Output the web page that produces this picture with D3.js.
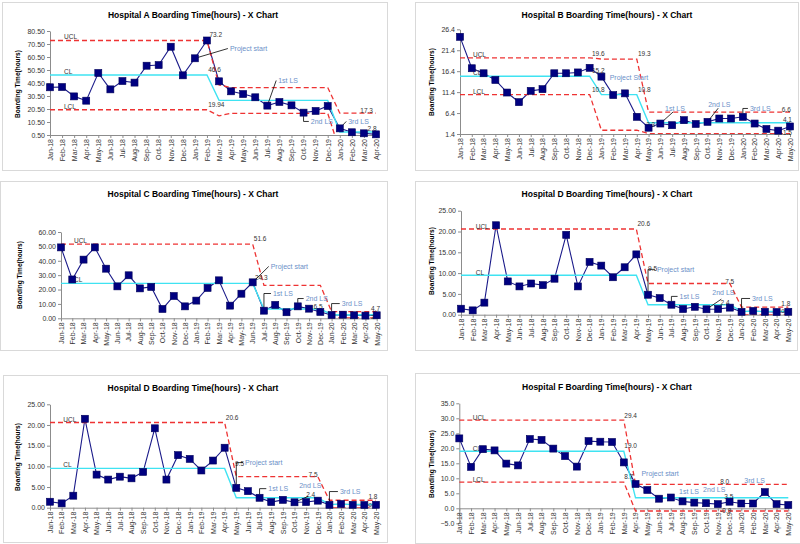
<!DOCTYPE html>
<html><head><meta charset="utf-8">
<script src="https://cdn.jsdelivr.net/npm/d3@7/dist/d3.min.js"></script>
<style>
body{margin:0;background:#fff;}
svg{display:block;}
text{font-family:"Liberation Sans",Arial,sans-serif;}
</style>
</head><body>
<svg id="c" width="800" height="544"></svg>
<script>
// ---------------- DATA ----------------
const months = ["Jan-18","Feb-18","Mar-18","Apr-18","May-18","Jun-18","Jul-18","Aug-18","Sep-18","Oct-18","Nov-18","Dec-18",
  "Jan-19","Feb-19","Mar-19","Apr-19","May-19","Jun-19","Jul-19","Aug-19","Sep-19","Oct-19","Nov-19","Dec-19",
  "Jan-20","Feb-20","Mar-20","Apr-20","May-20"];
const monthsA = ["Jan-18","Feb-18","Mar-18","Apr-18","May-18","Jun-18","Jul-18","Aug-18","Sep-18","Oct-18","Nov-18","Dec-18",
  "Jan-19","Feb-19","Mar-19","Apr-19","May-19","Jun-19","Jul-19","Aug-19","Sep-19","Oct-19","Nov-19","Dec-19",
  "Jan-20","Feb-20","Mar-20","Apr-20"];

// Hospital A
const hospA = [37.2,37.4,30.2,26.9,48.2,35.6,42.0,40.8,53.8,54.3,68.4,46.4,59.5,73.2,41.8,34.1,32.0,29.5,23.1,25.9,23.3,17.7,19.0,22.8,5.6,2.6,1.8,1.0];
const uclA = [73.2,73.2,73.2,73.2,73.2,73.2,73.2,73.2,73.2,73.2,73.2,73.2,73.2,73.2,39.0,37.0,37.0,37.0,37.0,37.0,37.0,37.0,37.0,37.0,17.3,17.3,17.3,17.3];
const clA  = [46.6,46.6,46.6,46.6,46.6,46.6,46.6,46.6,46.6,46.6,46.6,46.6,46.6,46.6,27.1,27.1,27.1,27.1,27.1,27.1,27.1,27.1,27.1,27.1,2.8,2.8,2.8,2.8];
const lclA = [19.94,19.94,19.94,19.94,19.94,19.94,19.94,19.94,19.94,19.94,19.94,19.94,19.94,19.94,15.2,17.2,17.2,17.2,17.2,17.2,17.2,17.2,17.2,17.2,-11.7,-11.7,-11.7,-11.7];
const ticksA = [0.5,10.5,20.5,30.5,40.5,50.5,60.5,70.5,80.5];

// Hospital B
const hospB = [24.6,17.1,15.9,14.3,11.3,9.0,11.7,12.1,15.9,15.9,16.1,17.2,15.1,10.7,11.1,5.5,2.9,3.9,3.5,4.7,3.8,4.3,5.1,5.1,5.5,3.9,2.6,2.2,3.2];
const uclB = [19.6,19.6,19.6,19.6,19.6,19.6,19.6,19.6,19.6,19.6,19.6,19.6,19.3,19.3,19.3,19.3,6.6,6.6,6.6,6.6,6.6,6.6,6.6,6.6,6.6,6.6,6.6,6.6,6.6];
const clB  = [15.2,15.2,15.2,15.2,15.2,15.2,15.2,15.2,15.2,15.2,15.2,15.2,10.8,10.8,10.8,10.8,4.1,4.1,4.1,4.1,4.1,4.1,4.1,4.1,4.1,4.1,4.1,4.1,4.1];
const lclB = [10.8,10.8,10.8,10.8,10.8,10.8,10.8,10.8,10.8,10.8,10.8,10.8,2.3,2.3,2.3,2.3,1.5,1.5,1.5,1.5,1.5,1.5,1.5,1.5,1.5,1.5,1.5,1.5,1.5];
const ticksB = [1.4,6.4,11.4,16.4,21.4,26.4];

// Hospital C
const hospC = [49.3,27.0,40.8,49.3,34.5,22.2,29.9,20.8,21.8,6.5,15.5,8.3,12.3,21.1,26.4,8.8,17.1,25.0,5.3,9.3,4.2,8.3,6.7,4.4,2.3,2.5,2.1,1.9,2.1];
const uclC = [51.6,51.6,51.6,51.6,51.6,51.6,51.6,51.6,51.6,51.6,51.6,51.6,51.6,51.6,51.6,51.6,51.6,51.6,22.9,22.9,22.9,22.9,22.9,22.9,4.7,4.7,4.7,4.7,4.7];
const clC  = [24.3,24.3,24.3,24.3,24.3,24.3,24.3,24.3,24.3,24.3,24.3,24.3,24.3,24.3,24.3,24.3,24.3,24.3,6.5,6.5,6.5,6.5,6.5,6.5,2.5,2.5,2.5,2.5,2.5];
const lclC = [-3.0,-3.0,-3.0,-3.0,-3.0,-3.0,-3.0,-3.0,-3.0,-3.0,-3.0,-3.0,-3.0,-3.0,-3.0,-3.0,-3.0,-3.0,-9.9,-9.9,-9.9,-9.9,-9.9,-9.9,0.2,0.2,0.2,0.2,0.2];
const ticksC = [0,10,20,30,40,50,60];

// Hospital D
const hospD = [1.44,1.04,2.9,21.5,8.0,6.8,7.5,7.1,8.65,19.2,6.8,12.7,11.8,9.0,11.4,14.5,4.8,4.0,2.4,1.36,1.9,1.3,1.36,1.7,0.7,0.9,0.7,0.65,0.7];
const uclD = [20.6,20.6,20.6,20.6,20.6,20.6,20.6,20.6,20.6,20.6,20.6,20.6,20.6,20.6,20.6,20.6,7.5,7.5,7.5,7.5,7.5,7.5,7.5,7.5,1.8,1.8,1.8,1.8,1.8];
const clD  = [9.5,9.5,9.5,9.5,9.5,9.5,9.5,9.5,9.5,9.5,9.5,9.5,9.5,9.5,9.5,9.5,2.4,2.4,2.4,2.4,2.4,2.4,2.4,2.4,0.8,0.8,0.8,0.8,0.8];
const lclD = [-1.6,-1.6,-1.6,-1.6,-1.6,-1.6,-1.6,-1.6,-1.6,-1.6,-1.6,-1.6,-1.6,-1.6,-1.6,-1.6,-2.7,-2.7,-2.7,-2.7,-2.7,-2.7,-2.7,-2.7,0.0,0.0,0.0,0.0,0.0];
const ticksD = [0,5,10,15,20,25];

// Hospital F
const hospF = [23.3,13.8,19.7,19.3,14.9,14.3,23.1,22.8,19.9,17.4,13.9,22.4,22.2,22.1,15.3,8.1,6.1,3.2,3.6,2.3,1.9,1.7,1.4,2.2,1.6,1.6,5.4,1.4,1.1];
const uclF = [29.4,29.4,29.4,29.4,29.4,29.4,29.4,29.4,29.4,29.4,29.4,29.4,29.4,29.4,29.4,8.0,8.0,8.0,8.0,8.0,8.0,8.0,8.0,8.0,8.0,8.0,8.0,8.0,8.0];
const clF  = [19.0,19.0,19.0,19.0,19.0,19.0,19.0,19.0,19.0,19.0,19.0,19.0,19.0,19.0,19.0,3.5,3.5,3.5,3.5,3.5,3.5,3.5,3.5,3.5,3.5,3.5,3.5,3.5,3.5];
const lclF = [8.7,8.7,8.7,8.7,8.7,8.7,8.7,8.7,8.7,8.7,8.7,8.7,8.7,8.7,8.7,-0.9,-0.9,-0.9,-0.9,-0.9,-0.9,-0.9,-0.9,-0.9,-0.9,-0.9,-0.9,-0.9,-0.9];
const ticksF = [-5,0,5,10,15,20,25,30,35];

// ---------------- ANNOTATIONS (text, anchored in data space) ----------------
const annA = [
  {t:"UCL",i:1.16,v:73.2,dy:-1},{t:"CL",i:1.16,v:46.6,dy:-1},{t:"LCL",i:1.16,v:19.94,dy:-1},
  {t:"73.2",i:13.2,v:73.2,dy:-3},{t:"46.6",i:13.1,v:46.6,dy:-3},{t:"19.94",i:13.1,v:19.94,dy:-3},
  {t:"17.3",i:25.7,v:17.3,dy:0},{t:"2.8",i:26.3,v:2.8,dy:-1},
  {t:"Project start",i:14.9,v:65.1,b:1,co:{k:"line",to:12}},
  {t:"1st LS",i:18.9,v:40.5,b:1,co:{k:"line",to:18}},
  {t:"2nd LS",i:21.6,v:9.0,b:1,co:{k:"br",to:21}},
  {t:"3rd LS",i:24.7,v:9.0,b:1,co:{k:"line",to:24}}
];
const annB = [
  {t:"UCL",i:1.1,v:19.6,dy:-1},{t:"CL",i:1.1,v:15.2,dy:-1},{t:"LCL",i:1.1,v:10.8,dy:-1},
  {t:"19.6",i:11.2,v:19.6,dy:-2},{t:"19.3",i:15.1,v:19.3,dy:-3},{t:"15.2",i:11.2,v:15.2,dy:-3},
  {t:"10.8",i:11.2,v:10.8,dy:-3},{t:"10.8",i:15.1,v:10.8,dy:-3},{t:"2.3",i:15.8,v:2.3,dy:-3},
  {t:"6.6",i:27.3,v:6.6,dy:0},{t:"4.1",i:27.4,v:4.1,dy:-1},{t:"1.5",i:27.4,v:1.5,dy:1.5},
  {t:"Project Start",i:12.7,v:14.3,b:1},
  {t:"1st LS",i:17.4,v:6.9,b:1,co:{k:"line",to:17,sx:8,sy:1}},
  {t:"2nd LS",i:21.06,v:7.8,b:1,co:{k:"line",to:21,sx:10,sy:1}},
  {t:"3rd LS",i:24.6,v:6.9,b:1,co:{k:"br",to:24}}
];
const annC = [
  {t:"UCL",i:1.15,v:51.6,dy:-1},{t:"CL",i:1.15,v:24.3,dy:-1},
  {t:"51.6",i:17.1,v:51.6,dy:-3},{t:"24.3",i:17.2,v:24.3,dy:-3},{t:"6.5",i:22.4,v:6.5,dy:0},
  {t:"4.7",i:27.5,v:4.7,dy:-1},{t:"2.5",i:27.5,v:2.5,dy:4,s:6},
  {t:"Project start",i:18.6,v:34.3,b:1,co:{k:"line",to:17}},
  {t:"1st LS",i:18.8,v:15.5,b:1,co:{k:"br",to:18}},
  {t:"2nd LS",i:21.7,v:12.0,b:1,co:{k:"br",to:21}},
  {t:"3rd LS",i:24.9,v:8.5,b:1,co:{k:"br",to:24}}
];
const annD = [
  {t:"UCL",i:1.26,v:20.6,dy:0},{t:"CL",i:1.26,v:9.5,dy:0},
  {t:"20.6",i:15.1,v:20.6,dy:-3},{t:"9.5",i:16.0,v:9.5,dy:-4},{t:"7.5",i:22.6,v:7.5,dy:0},
  {t:"2.4",i:22.2,v:2.4,dy:0},{t:"1.8",i:27.4,v:1.8,dy:-1.5},{t:"0.8",i:27.4,v:0.8,dy:1.5,s:6},
  {t:"Project start",i:16.76,v:10.3,b:1,co:{k:"br",to:16}},
  {t:"1st LS",i:18.7,v:3.8,b:1,co:{k:"br",to:18}},
  {t:"2nd LS",i:21.5,v:4.7,b:1,co:{k:"line",to:21,sx:9,sy:4}},
  {t:"3rd LS",i:24.9,v:3.3,b:1,co:{k:"br",to:24}}
];
const annD2 = [
  {t:"UCL",i:1.14,v:20.6,dy:0},{t:"CL",i:1.14,v:9.5,dy:-1},
  {t:"20.6",i:15.1,v:20.6,dy:-2.5},{t:"9.5",i:15.9,v:9.5,dy:-2.5},{t:"7.5",i:22.2,v:7.5,dy:0},
  {t:"2.4",i:22.0,v:2.4,dy:-1},{t:"1.8",i:27.35,v:1.8,dy:-1.5},{t:"0.8",i:27.35,v:0.8,dy:2.5,s:6},
  {t:"Project start",i:16.75,v:10.3,b:1,co:{k:"br",to:16}},
  {t:"1st LS",i:18.75,v:4.0,b:1,co:{k:"br",to:18}},
  {t:"2nd LS",i:21.4,v:4.8,b:1,co:{k:"line",to:21,sx:9,sy:8.5}},
  {t:"3rd LS",i:24.9,v:3.3,b:1,co:{k:"br",to:24}}
];
const annF = [
  {t:"UCL",i:1.14,v:29.4,dy:0},{t:"CL",i:1.14,v:19.0,dy:0},{t:"LCL",i:1.14,v:8.7,dy:0},
  {t:"29.4",i:14.04,v:29.4,dy:-2},{t:"19.0",i:14.04,v:19.0,dy:-3},{t:"8.7",i:14.04,v:8.7,dy:-3},
  {t:"8.0",i:22.2,v:8.0,dy:0},{t:"3.5",i:22.55,v:3.5,dy:1.5},{t:"-0.9",i:22.2,v:-0.9,dy:2},
  {t:"Project start",i:15.5,v:10.8,b:1},
  {t:"1st LS",i:18.7,v:4.8,b:1},
  {t:"2nd LS",i:20.75,v:5.3,b:1},
  {t:"3rd LS",i:24.25,v:8.4,b:1}
];

// ---------------- LAYOUT ----------------
const panels = [
  {title:"Hospital A Boarding Time(hours) - X Chart", cats:monthsA, vals:hospA, ucl:uclA, cl:clA, lcl:lclA, ticks:ticksA, fmt:".2f", ann:annA,
   frame:[2,2,385,168], x0:50, x1:376, yTop:31, yBot:135, dom:[0.5,80.5], axisAt:0.5, tpos:[193,15], ytpos:[18,84]},
  {title:"Hospital B Boarding Time(hours) - X Chart", cats:months, vals:hospB, ucl:uclB, cl:clB, lcl:lclB, ticks:ticksB, fmt:".1f", ann:annB,
   frame:[415,2,383,168], x0:460, x1:790, yTop:29.3, yBot:134, dom:[1.4,26.4], axisAt:1.4, tpos:[607,15], ytpos:[432,82]},
  {title:"Hospital C Boarding Time(hours) - X Chart", cats:months, vals:hospC, ucl:uclC, cl:clC, lcl:lclC, ticks:ticksC, fmt:".2f", ann:annC,
   frame:[0,181,387,169], x0:61, x1:376.7, yTop:232, yBot:318.3, dom:[0,60], axisAt:0, tpos:[193,194], ytpos:[20,275]},
  {title:"Hospital D Boarding Time(hours) - X Chart", cats:months, vals:hospD, ucl:uclD, cl:clD, lcl:lclD, ticks:ticksD, fmt:".2f", ann:annD,
   frame:[415,181,382,169], x0:461, x1:788.3, yTop:210.7, yBot:314.7, dom:[0,25], axisAt:0, tpos:[607,194], ytpos:[432,261]},
  {title:"Hospital D Boarding Time(hours) - X Chart", cats:months, vals:hospD, ucl:uclD, cl:clD, lcl:lclD, ticks:ticksD, fmt:".2f", ann:annD2,
   frame:[3,375,384,167], x0:50, x1:376, yTop:404.3, yBot:507.7, dom:[0,25], axisAt:0, tpos:[193,388], ytpos:[18,457]},
  {title:"Hospital F Boarding Time(hours) - X Chart", cats:months, vals:hospF, ucl:uclF, cl:clF, lcl:lclF, ticks:ticksF, fmt:".1f", ann:annF,
   frame:[415,373,390,170], x0:459.3, x1:788.3, yTop:403.3, yBot:523.3, dom:[-5,35], axisAt:0, tpos:[607,387], ytpos:[432,464]}
];

const COL = {data:"#1b1b8a", marker:"#000080", mstroke:"#00005a", red:"#ee3333", cyan:"#3fe3f2", axis:"#8c8c8c", txt:"#333333", blue:"#6b90c8", frame:"#d9d9d9"};

const svg = d3.select("#c");
svg.append("rect").attr("width",800).attr("height",544).attr("fill","#fff");

panels.forEach((p, k) => {
  const g = svg.append("g");
  g.append("rect").attr("x",p.frame[0]+0.5).attr("y",p.frame[1]+0.5)
    .attr("width",p.frame[2]).attr("height",p.frame[3])
    .attr("fill","#fff").attr("stroke",COL.frame).attr("stroke-width",1);

  const x = d3.scalePoint().domain(p.cats).range([p.x0,p.x1]);
  const xi = d3.scaleLinear().domain([0,p.cats.length-1]).range([p.x0,p.x1]);
  const y = d3.scaleLinear().domain(p.dom).range([p.yBot,p.yTop]);

  // title
  g.append("text").attr("x",p.tpos[0]).attr("y",p.tpos[1]+3)
    .attr("text-anchor","middle").attr("font-size",8.5).attr("font-weight","bold").attr("fill","#000").text(p.title);
  // y axis title
  g.append("text").attr("transform",`translate(${p.ytpos[0]+2},${p.ytpos[1]}) rotate(-90)`)
    .attr("text-anchor","middle").attr("font-size",6.5).attr("font-weight","bold").attr("fill","#000").text("Boarding Time(hours)");

  // y axis
  const ya = g.append("g").attr("transform",`translate(${p.x0},0)`)
    .call(d3.axisLeft(y).tickValues(p.ticks).tickFormat(d3.format(p.fmt)).tickSize(3).tickSizeOuter(0).tickPadding(2));
  ya.select(".domain").attr("stroke",COL.axis);
  ya.selectAll(".tick line").attr("stroke",COL.axis);
  ya.selectAll("text").attr("font-size",7).attr("fill",COL.txt).attr("font-family",null);

  // x axis
  const xa = g.append("g").attr("transform",`translate(0,${y(p.axisAt)})`)
    .call(d3.axisBottom(x).tickSize(3).tickSizeOuter(0));
  xa.select(".domain").attr("stroke",COL.axis);
  xa.selectAll(".tick line").attr("stroke",COL.axis);
  xa.selectAll("text").attr("font-size",7).attr("fill",COL.txt).attr("font-family",null)
    .attr("transform","rotate(-90)").attr("text-anchor","end").attr("x",-4).attr("y",0).attr("dy","0.33em");

  // clip
  const cid = "clip"+k;
  svg.append("clipPath").attr("id",cid).append("rect")
    .attr("x",p.x0-2).attr("y",p.yTop-1).attr("width",p.x1-p.x0+4).attr("height",p.yBot-p.yTop+1);
  const lg = g.append("g").attr("clip-path",`url(#${cid})`);

  const line = d3.line().x((d,i)=>x(p.cats[i])).y(d=>y(d));
  lg.append("path").datum(p.vals).attr("d",line).attr("fill","none").attr("stroke",COL.data).attr("stroke-width",1.1);
  lg.append("path").datum(p.ucl).attr("d",line).attr("fill","none").attr("stroke",COL.red).attr("stroke-width",1.3).attr("stroke-dasharray","5,3");
  lg.append("path").datum(p.lcl).attr("d",line).attr("fill","none").attr("stroke",COL.red).attr("stroke-width",1.3).attr("stroke-dasharray","5,3");
  lg.append("path").datum(p.cl).attr("d",line).attr("fill","none").attr("stroke",COL.cyan).attr("stroke-width",1.4);

  // annotations
  const ag = g.append("g");
  p.ann.forEach(a => {
    const lx = xi(a.i), by = y(a.v) + (a.dy||0);
    ag.append("text").attr("x",lx).attr("y",by)
      .attr("font-size", a.s ? a.s : (a.b ? 7 : 6.5)).attr("fill", a.b ? COL.blue : COL.txt).text(a.t);
    if (a.co) {
      const px = x(p.cats[a.co.to]), py = y(p.vals[a.co.to]);
      if (a.co.k === "line") {
        const sx = lx + (a.co.sx !== undefined ? a.co.sx : -2);
        const sy = by + (a.co.sy !== undefined ? a.co.sy : -2.5);
        ag.append("path").attr("d",`M${sx},${sy}L${px},${py}`).attr("stroke","#000").attr("stroke-width",0.8).attr("fill","none");
      } else {
        const sx = lx - 2, sy = by - 2.5;
        const ey = py + (py > sy ? -3.5 : 3.5);
        ag.append("path").attr("d",`M${sx},${sy}H${px}V${ey}`).attr("stroke","#000").attr("stroke-width",0.8).attr("fill","none");
      }
    }
  });

  // markers
  g.append("g").selectAll("rect").data(p.vals).join("rect")
    .attr("x",(d,i)=>x(p.cats[i])-3.5).attr("y",d=>y(d)-3.5)
    .attr("width",7).attr("height",7)
    .attr("fill",COL.marker).attr("stroke",COL.mstroke).attr("stroke-width",0.6);
});
</script>
</body></html>
